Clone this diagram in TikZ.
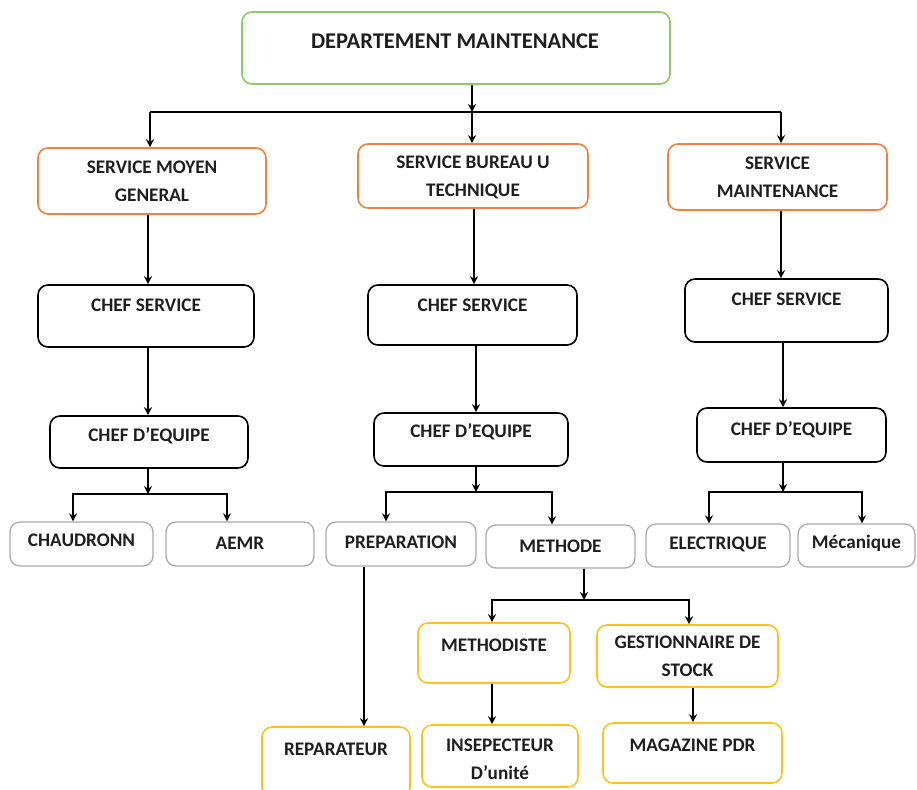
\documentclass[tikz,border=0pt]{standalone}
\usepackage{fontspec}
\setmainfont{Carlito}
\usetikzlibrary{arrows.meta}
\definecolor{vert}{HTML}{8DC966}
\definecolor{orange}{HTML}{EE8240}
\definecolor{jaune}{HTML}{FFC21A}
\definecolor{gris}{HTML}{ABABAB}
\definecolor{texte}{HTML}{1E1E1E}
\tikzset{
  boite/.style={draw, rounded corners=10pt, line width=1.6pt, inner sep=0pt},
  bvert/.style={boite, draw=vert},
  borange/.style={boite, draw=orange},
  bnoir/.style={boite, draw=black},
  bgris/.style={boite, draw=gris, line width=1.3pt},
  bjaune/.style={boite, draw=jaune},
  txt/.style={font=\bfseries\fontsize{19.2}{28}\selectfont, text=texte, align=center, inner sep=0pt},
  fleche/.style={-{Stealth[length=8pt,width=8pt]}, line width=1.7pt},
  trait/.style={line width=1.7pt}
}
\begin{document}
\begin{tikzpicture}[x=1pt,y=-1pt]
        \useasboundingbox (0,0) rectangle (917,789);
        
        % Departement
        \node[bvert, minimum width=428, minimum height=72] (dep) at (456,48) {};
        \node[txt, font=\bfseries\fontsize{22.5}{28}\selectfont] (tdep) at (455,41) {DEPARTEMENT MAINTENANCE};
        
        % Services
        \node[borange, minimum width=228, minimum height=66] (smg) at (152,181) {};
        \node[borange, minimum width=230, minimum height=64] (sbt) at (473,176) {};
        \node[borange, minimum width=219, minimum height=66] (sm) at (777.5,177) {};
        \node[txt] (tsmg) at (152,181) {SERVICE MOYEN\\GENERAL};
        \node[txt] (tsbt) at (473,177) {SERVICE BUREAU U\\TECHNIQUE};
        \node[txt] (tsm) at (777.5,177) {SERVICE\\MAINTENANCE};
        
        % Chefs service
        \node[bnoir, minimum width=216, minimum height=62] (cs1) at (146,316) {};
        \node[bnoir, minimum width=209, minimum height=60] (cs2) at (472.5,315) {};
        \node[bnoir, minimum width=203, minimum height=63] (cs3) at (786.5,310.5) {};
        \node[txt] (tcs1) at (146,305) {CHEF SERVICE};
        \node[txt] (tcs2) at (472.5,305) {CHEF SERVICE};
        \node[txt] (tcs3) at (786.5,299) {CHEF SERVICE};
        
        % Chefs d'equipe
        \node[bnoir, minimum width=198, minimum height=52] (ce1) at (149,442) {};
        \node[bnoir, minimum width=194, minimum height=53] (ce2) at (471,439.5) {};
        \node[bnoir, minimum width=189, minimum height=54] (ce3) at (791.5,435) {};
        \node[txt] (tce1) at (149,436) {CHEF D’EQUIPE};
        \node[txt] (tce2) at (471,432) {CHEF D’EQUIPE};
        \node[txt] (tce3) at (791.5,430) {CHEF D’EQUIPE};
        
        % Ateliers
        \node[bgris, minimum width=143, minimum height=44] (chau) at (81.5,544) {};
        \node[bgris, minimum width=148, minimum height=44] (aemr) at (240,544) {};
        \node[bgris, minimum width=150, minimum height=44] (prep) at (401,544) {};
        \node[bgris, minimum width=149, minimum height=43] (meth) at (560.5,546.5) {};
        \node[bgris, minimum width=144, minimum height=43] (elec) at (718,545.5) {};
        \node[bgris, minimum width=117, minimum height=43] (meca) at (856.5,545.5) {};
        \node[txt] (tchau) at (81.5,540) {CHAUDRONN};
        \node[txt] (taemr) at (240,543) {AEMR};
        \node[txt] (tprep) at (401,542) {PREPARATION};
        \node[txt] (tmeth) at (560.5,546) {METHODE};
        \node[txt] (telec) at (718,544) {ELECTRIQUE};
        \node[txt] (tmeca) at (856.5,543) {Mécanique};
        
        % Methode
        \node[bjaune, minimum width=152, minimum height=60] (mdst) at (494,653) {};
        \node[bjaune, minimum width=181, minimum height=62] (gest) at (687.5,656) {};
        \node[txt] (tmdst) at (494,645) {METHODISTE};
        \node[txt] (tgest) at (687.5,656) {GESTIONNAIRE DE\\STOCK};
        
        % Bas
        \node[bjaune, minimum width=148, minimum height=70] (rep) at (336,762) {};
        \node[bjaune, minimum width=156, minimum height=62] (insp) at (500,756) {};
        \node[bjaune, minimum width=179, minimum height=60] (mag) at (692.5,753) {};
        \node[txt] (trep) at (336,749) {REPARATEUR};
        \node[txt] (tinsp) at (500,759) {INSEPECTEUR\\D’unité};
        \node[txt] (tmag) at (692.5,745) {MAGAZINE PDR};
        
        % Liaisons departement -> services
        \coordinate (j0) at (472,112);
        \draw[fleche] (dep.south -| j0) -- (j0);
        \draw[trait] ([xshift=-2]smg.north |- j0) -- ([xshift=3.5]sm.north |- j0);
        \draw[fleche] ([xshift=-2]smg.north |- j0) -- ([xshift=-2]smg.north);
        \draw[fleche] (j0) -- (sbt.north -| j0);
        \draw[fleche] ([xshift=3.5]sm.north |- j0) -- ([xshift=3.5]sm.north);
        
        % Services -> chefs
        \foreach \a/\b/\d in {smg/cs1/-4, sbt/cs2/1, sm/cs3/3.5, cs1/ce1/2, cs2/ce2/3.5, cs3/ce3/-3.5}
          \draw[fleche] ([xshift=\d]\a.south) -- ([xshift=\d]\a.south |- \b.north);
        
        % Chefs d'equipe -> ateliers
        \coordinate (j1) at (148,494);
        \coordinate (j2) at (476,492);
        \coordinate (j3) at (783,492);
        \draw[fleche] (ce1.south -| j1) -- (j1);
        \draw[fleche] (j1) -| ([xshift=-8.5]chau.north);
        \draw[fleche] (j1) -| ([xshift=-13]aemr.north);
        \draw[fleche] (ce2.south -| j2) -- (j2);
        \draw[fleche] (j2) -| ([xshift=-15]prep.north);
        \draw[fleche] (j2) -| ([xshift=-8.5]meth.north);
        \draw[fleche] (ce3.south -| j3) -- (j3);
        \draw[fleche] (j3) -| ([xshift=-9]elec.north);
        \draw[fleche] (j3) -| ([xshift=5.5]meca.north);
        
        % Methode -> methodiste, gestionnaire
        \coordinate (j4) at (584,600);
        \draw[fleche] (meth.south -| j4) -- (j4);
        \draw[fleche] (j4) -| ([xshift=-2]mdst.north);
        \draw[fleche] (j4) -| ([xshift=1.5]gest.north);
        
        % Derniers niveaux
        \draw[fleche] ([xshift=-37]prep.south) -- ([xshift=-37]prep.south |- rep.north);
        \draw[fleche] ([xshift=-2]mdst.south) -- ([xshift=-2]mdst.south |- insp.north);
        \draw[fleche] ([xshift=5.5]gest.south) -- ([xshift=5.5]gest.south |- mag.north);
    \end{tikzpicture}
\end{document}
